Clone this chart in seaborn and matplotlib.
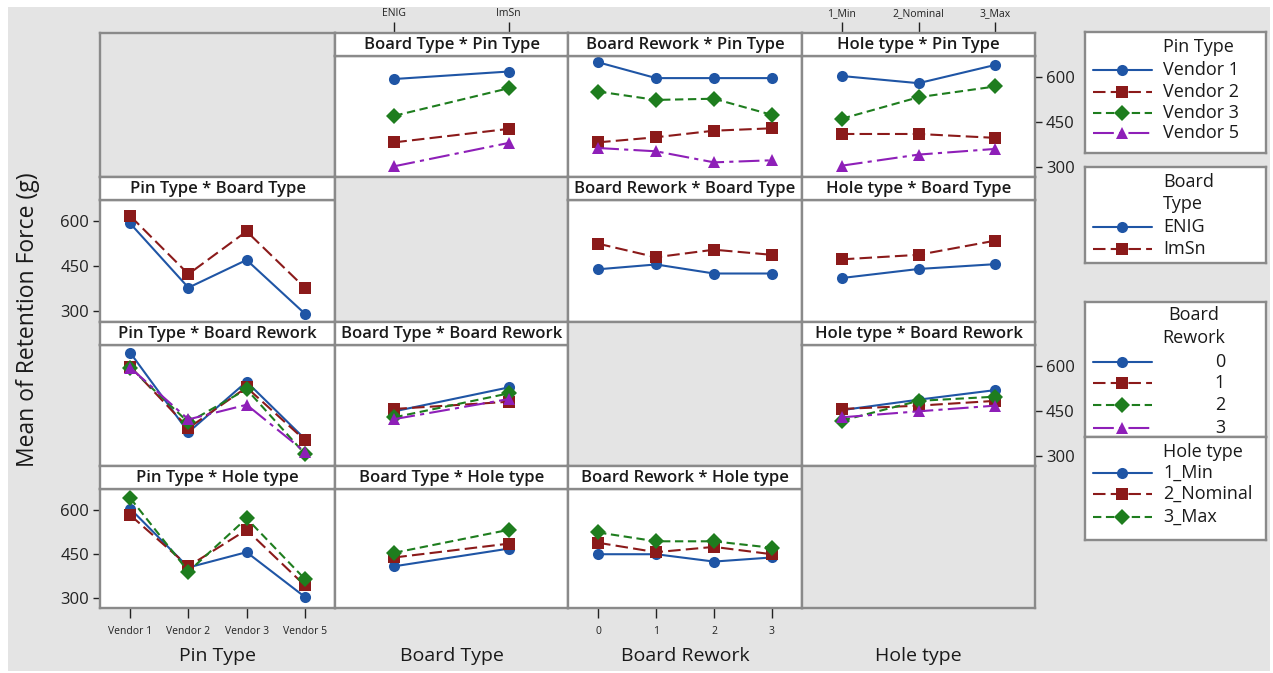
# Interaction plot matrix for retention force (Minitab style), drawn with seaborn
import pandas as pd
import seaborn as sns
import matplotlib.pyplot as plt
from matplotlib.patches import Rectangle

sns.set_theme(style="white")
plt.rcParams['font.family'] = ['Open Sans', 'DejaVu Sans']

# Factor levels
pin_types = ["Vendor 1", "Vendor 2", "Vendor 3", "Vendor 5"]
board_types = ["ENIG", "ImSn"]
board_reworks = ["0", "1", "2", "3"]
hole_types = ["1_Min", "2_Nominal", "3_Max"]
factor_names = ["Pin Type", "Board Type", "Board Rework", "Hole type"]

# Means of retention force (g): one list per trace level, values along x levels
# trace = Pin Type
pin_by_board_type = [[593, 618], [381, 426], [470, 562], [301, 379]]
pin_by_rework = [[649, 596, 596, 596], [381, 398, 420, 428],
                 [551, 523, 527, 473], [362, 351, 314, 321]]
pin_by_hole = [[603, 579, 640], [409, 409, 396], [460, 532, 568], [303, 340, 359]]
# trace = Board Type
board_by_pin = [[592, 379, 471, 293], [617, 424, 566, 379]]
board_by_rework = [[440, 456, 426, 426], [525, 480, 505, 488]]
board_by_hole = [[411, 441, 457], [473, 488, 535]]
# trace = Board Rework
rework_by_pin = [[644, 378, 547, 356], [598, 392, 528, 352],
                 [594, 411, 522, 306], [594, 421, 470, 313]]
rework_by_board = [[448, 528], [456, 480], [428, 508], [422, 489]]
rework_by_hole = [[452, 487, 519], [456, 467, 483], [417, 483, 497], [428, 448, 467]]
# trace = Hole type
hole_by_pin = [[603, 403, 455, 303], [581, 407, 531, 342], [639, 389, 570, 364]]
hole_by_board = [[407, 467], [437, 484], [453, 531]]
hole_by_rework = [[448, 448, 423, 437], [487, 455, 473, 448], [522, 492, 492, 470]]

levels = [pin_types, board_types, board_reworks, hole_types]
panels = {
    (0, 1): pin_by_board_type, (0, 2): pin_by_rework, (0, 3): pin_by_hole,
    (1, 0): board_by_pin, (1, 2): board_by_rework, (1, 3): board_by_hole,
    (2, 0): rework_by_pin, (2, 1): rework_by_board, (2, 3): rework_by_hole,
    (3, 0): hole_by_pin, (3, 1): hole_by_board, (3, 2): hole_by_rework,
}

# styles
colors = ['#1f55a5', '#8b1a1a', '#1e7d1e', '#8e1fb8']
markers = ['o', 's', 'D', '^']
dashes = ['', (6, 2.5), (4, 2.2), (10, 2.5, 2, 2.5)]
bg = '#e4e4e4'
edge = '#8a8a8a'

W, H = 1273, 673
col_x = [100, 335, 568, 802, 1035]
row_y = [33, 177, 322, 466, 608]
strip_h = 23


def rect(x0, y0, x1, y1):
    return [x0 / W, 1 - y1 / H, (x1 - x0) / W, (y1 - y0) / H]


def style_spines(ax):
    for s in ax.spines.values():
        s.set_color(edge)
        s.set_linewidth(1.7)


fig = plt.figure(figsize=(W / 100, H / 100), dpi=100)
fig.patch.set_facecolor('white')
fig.patches.append(Rectangle((8 / W, 2 / H), 1262 / W, 664 / H, transform=fig.transFigure,
                             facecolor=bg, edgecolor='none', zorder=-10))

for r in range(4):
    for c in range(4):
        x0, x1 = col_x[c], col_x[c + 1]
        y0, y1 = row_y[r], row_y[r + 1]
        if r == c:
            ax = fig.add_axes(rect(x0, y0, x1, y1))
            ax.set_facecolor(bg)
            ax.set_xticks([])
            ax.set_yticks([])
            style_spines(ax)
            continue
        xl = levels[c]
        tl = levels[r]
        n = len(xl)
        ax = fig.add_axes(rect(x0, y0 + strip_h, x1, y1))
        sax = fig.add_axes(rect(x0, y0, x1, y0 + strip_h))
        rows = []
        for lvl, vals in zip(tl, panels[(r, c)]):
            for i, v in enumerate(vals):
                rows.append((i, v, lvl))
        df = pd.DataFrame(rows, columns=["x", "mean", "trace"])
        k = len(tl)
        sns.lineplot(data=df, x="x", y="mean", hue="trace", style="trace",
                     hue_order=tl, style_order=tl,
                     palette=dict(zip(tl, colors[:k])),
                     dashes=dict(zip(tl, dashes[:k])),
                     markers=dict(zip(tl, markers[:k])),
                     markersize=8, markeredgewidth=0, linewidth=1.5,
                     errorbar=None, sort=False, legend=False, ax=ax)
        ax.set_xlim(-0.52, n - 0.48)
        ax.set_ylim(265, 670)
        ax.set_facecolor('white')
        ax.set_xlabel('')
        ax.set_ylabel('')
        style_spines(ax)
        ax.set_xticks(range(n))
        ax.set_yticks([300, 450, 600])
        ax.tick_params(left=False, bottom=False, labelleft=False, labelbottom=False,
                       colors='#222222', length=5, width=1, labelsize=12)
        if c == 0 and r in (1, 3):
            ax.tick_params(left=True, labelleft=True, pad=3)
        if c == 3 and r in (0, 2):
            ax.tick_params(right=True, labelright=True, pad=3)
        if r == 3 and c in (0, 2):
            ax.set_xticklabels(xl, fontsize=7.5)
            ax.tick_params(axis='x', bottom=True, labelbottom=True, length=7, pad=6)

        # title strip
        sax.set_facecolor('white')
        sax.set_xlim(ax.get_xlim())
        sax.set_yticks([])
        sax.set_xticks([])
        style_spines(sax)
        sax.text(0.5, 0.48, f"{factor_names[c]} * {factor_names[r]}", transform=sax.transAxes,
                 ha='center', va='center', fontsize=12, fontweight='semibold', color='#1a1a1a')
        if r == 0 and c in (1, 3):
            sax.set_xticks(range(n))
            sax.set_xticklabels(xl, fontsize=7.5)
            sax.tick_params(axis='x', top=True, labeltop=True, bottom=False, labelbottom=False,
                            length=8, width=1, colors='#222222', pad=2)

# column labels and y label
for c in range(4):
    fig.text((col_x[c] + col_x[c + 1]) / 2 / W, 1 - 656 / H, factor_names[c],
             ha='center', va='center', fontsize=14, color='#1a1a1a')
fig.text(28 / W, 1 - 320 / H, "Mean of Retention Force (g)", rotation=90,
         ha='center', va='center', fontsize=16.5, color='#1a1a1a')

# legends drawn in boxes on the right
legend_specs = [
    (32, 153, ["Pin Type"], [47], pin_types, [70, 92, 113, 133], 'left'),
    (167, 263, ["Board", "Type"], [182, 204], board_types, [227, 249], 'left'),
    (302, 437, ["Board", "Rework"], [315, 338], board_reworks, [362, 383, 405, 428], 'center'),
    (437, 540, ["Hole type"], [452], hole_types, [473, 494, 517], 'left'),
]
lx0, lx1 = 1085, 1266
for top, bottom, title_lines, title_ys, labels, ys, align in legend_specs:
    lax = fig.add_axes(rect(lx0, top, lx1, bottom))
    lax.set_xlim(lx0, lx1)
    lax.set_ylim(bottom, top)
    lax.set_xticks([])
    lax.set_yticks([])
    lax.set_facecolor('white')
    style_spines(lax)
    for line, ty in zip(title_lines, title_ys):
        if align == 'center':
            lax.text(1194, ty, line, ha='center', va='center', fontsize=13, color='#1a1a1a')
        else:
            lax.text(1163, ty, line, ha='left', va='center', fontsize=13, color='#1a1a1a')
    for i, (lab, y) in enumerate(zip(labels, ys)):
        ls = '-' if dashes[i] == '' else (0, dashes[i])
        lax.plot([1093, 1152], [y, y], color=colors[i], linestyle=ls, linewidth=1.5)
        lax.plot([1122], [y], marker=markers[i], color=colors[i], markersize=8,
                 markeredgewidth=0)
        if align == 'center':
            lax.text(1220, y, lab, ha='center', va='center', fontsize=13, color='#1a1a1a')
        else:
            lax.text(1163, y, lab, ha='left', va='center', fontsize=13, color='#1a1a1a')

fig.savefig('out.png', dpi=100)
